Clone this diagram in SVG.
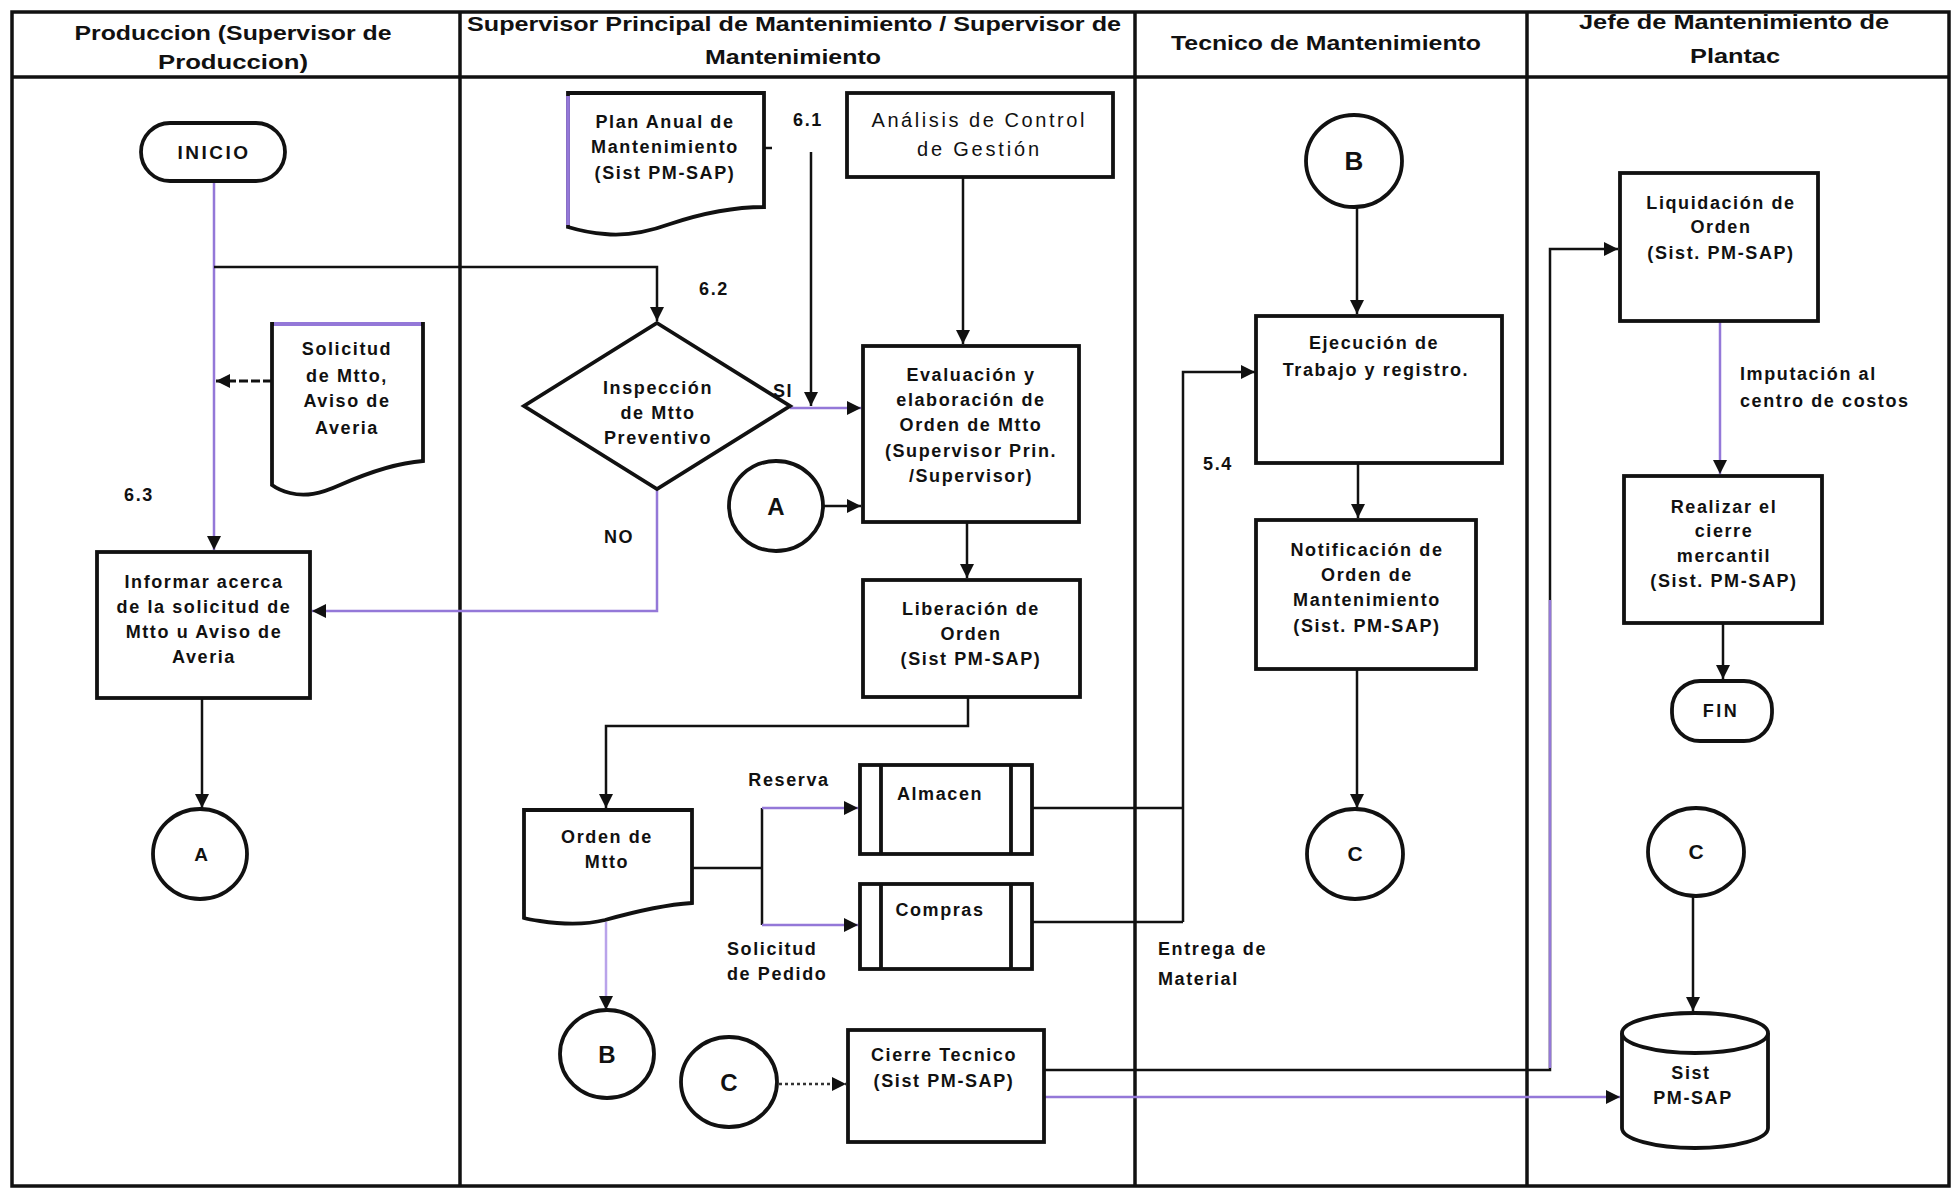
<svg xmlns="http://www.w3.org/2000/svg" width="1953" height="1190" viewBox="0 0 1953 1190">
<style>
.frame{fill:none;stroke:#111;stroke-width:3.5}
.box{fill:#fff;stroke:#111;stroke-width:3.8}
.ln{fill:none;stroke:#111;stroke-width:2.5}
.pl{fill:none;stroke:#9478d8;stroke-width:2.5}
.dot{fill:none;stroke:#333;stroke-width:2.5;stroke-dasharray:3 3}
.dash{fill:none;stroke:#111;stroke-width:3;stroke-dasharray:9 3}
text{font-family:"Liberation Sans",Arial,sans-serif;fill:#111}
.h{font-size:21px;font-weight:bold;text-anchor:middle}
.t{font-size:18px;font-weight:bold;text-anchor:middle;letter-spacing:1.6px}
.s{font-size:18px;font-weight:bold;text-anchor:start;letter-spacing:1.6px}
.r{font-size:20px;font-weight:normal;text-anchor:middle}
.big{font-size:24px;font-weight:bold;text-anchor:middle}
</style>
<defs>
<marker id="ar" viewBox="0 0 14 14" markerWidth="14" markerHeight="14" refX="14" refY="7" orient="auto" markerUnits="userSpaceOnUse">
<path d="M0,0 L14,7 L0,14 z" fill="#111"/>
</marker>
</defs>
<rect width="1953" height="1190" fill="#fff"/>

<g id="lanes">
<rect class="frame" x="12" y="12" width="1937" height="1174"/>
<line class="frame" x1="12" y1="77" x2="1949" y2="77"/>
<line class="frame" x1="460" y1="12" x2="460" y2="1186"/>
<line class="frame" x1="1135" y1="12" x2="1135" y2="1186"/>
<line class="frame" x1="1527" y1="12" x2="1527" y2="1186"/>
<text class="h" x="233" y="40" textLength="317" lengthAdjust="spacingAndGlyphs">Produccion (Supervisor de</text>
<text class="h" x="233" y="69" textLength="150" lengthAdjust="spacingAndGlyphs">Produccion)</text>
<text class="h" x="794" y="31" textLength="654" lengthAdjust="spacingAndGlyphs">Supervisor Principal de Mantenimiento / Supervisor de</text>
<text class="h" x="793" y="64" textLength="176" lengthAdjust="spacingAndGlyphs">Mantenimiento</text>
<text class="h" x="1326" y="50" textLength="310" lengthAdjust="spacingAndGlyphs">Tecnico de Mantenimiento</text>
<text class="h" x="1734" y="29" textLength="310" lengthAdjust="spacingAndGlyphs">Jefe de Mantenimiento de</text>
<text class="h" x="1735" y="63" textLength="90" lengthAdjust="spacingAndGlyphs">Plantac</text>
</g>

<g id="connectors">
<path class="pl" d="M214,181 V550" marker-end="url(#ar)"/>
<path class="ln" d="M214,267 H657 V321" marker-end="url(#ar)"/>
<path class="dash" d="M272,381 H216" marker-end="url(#ar)"/>
<path class="pl" d="M657,489 V611 H312" marker-end="url(#ar)"/>
<path class="ln" d="M202,698 V808" marker-end="url(#ar)"/>
<path class="ln" d="M764,148 H772"/>
<path class="ln" d="M811,152 V406" marker-end="url(#ar)"/>
<path class="pl" d="M790,408 H861" marker-end="url(#ar)"/>
<path class="ln" d="M963,177 V344" marker-end="url(#ar)"/>
<path class="ln" d="M823,506 H861" marker-end="url(#ar)"/>
<path class="ln" d="M967,522 V578" marker-end="url(#ar)"/>
<path class="ln" d="M968,697 V726 H606 V808" marker-end="url(#ar)"/>
<path class="ln" d="M692,868 H762 M762,808 V925"/>
<path class="pl" d="M762,808 H858" marker-end="url(#ar)"/>
<path class="pl" d="M762,925 H858" marker-end="url(#ar)"/>
<path class="ln" d="M1032,808 H1183 M1032,922 H1183"/>
<path class="ln" d="M1183,922 V372 H1255" marker-end="url(#ar)"/>
<path class="pl" style="stroke:#b9a3ea" d="M606,922 V1010" marker-end="url(#ar)"/>
<path class="dot" d="M779,1084 H846" marker-end="url(#ar)"/>
<path class="ln" d="M1044,1070 H1550 V249 H1618" marker-end="url(#ar)"/>
<path class="pl" d="M1550,1068 V600"/>
<path class="pl" d="M1044,1097 H1620" marker-end="url(#ar)"/>
<path class="ln" d="M1357,208 V314" marker-end="url(#ar)"/>
<path class="ln" d="M1358,463 V518" marker-end="url(#ar)"/>
<path class="ln" d="M1357,669 V808" marker-end="url(#ar)"/>
<path class="pl" d="M1720,321 V474" marker-end="url(#ar)"/>
<path class="ln" d="M1723,623 V679" marker-end="url(#ar)"/>
<path class="ln" d="M1693,896 V1011" marker-end="url(#ar)"/>
</g>

<g id="labels">
<text class="t" x="139" y="501">6.3</text>
<text class="t" x="808" y="126">6.1</text>
<text class="t" x="714" y="295">6.2</text>
<text class="t" x="783" y="397">SI</text>
<text class="t" x="619" y="543">NO</text>
<text class="t" x="789" y="786">Reserva</text>
<text class="s" x="727" y="955">Solicitud</text>
<text class="s" x="727" y="980">de Pedido</text>
<text class="t" x="1218" y="470">5.4</text>
<text class="s" x="1158" y="955">Entrega de</text>
<text class="s" x="1158" y="985">Material</text>
<text class="s" x="1740" y="380">Imputación al</text>
<text class="s" x="1740" y="407">centro de costos</text>
</g>

<g id="inicio">
<rect class="box" x="141" y="123" width="144" height="58" rx="29"/>
<text class="t" x="214" y="159" style="font-size:19px;letter-spacing:2.5px">INICIO</text>
</g>

<g id="solicitud">
<path class="box" d="M272,324 H423 V461 C395,463 365,474 340,485 C320,494 305,497 290,493 C282,491 276,488 272,485 Z"/>
<path class="pl" style="stroke-width:3.8" d="M274,324 H421"/>
<text class="t" x="347" y="355">Solicitud</text>
<text class="t" x="347" y="382">de Mtto,</text>
<text class="t" x="347" y="407">Aviso de</text>
<text class="t" x="347" y="434">Averia</text>
</g>

<g id="informar">
<rect class="box" x="97" y="552" width="213" height="146"/>
<text class="t" x="204" y="588">Informar acerca</text>
<text class="t" x="204" y="613">de la solicitud de</text>
<text class="t" x="204" y="638">Mtto u Aviso de</text>
<text class="t" x="204" y="663">Averia</text>
</g>

<g id="conA1">
<ellipse class="box" cx="200" cy="854" rx="47" ry="45"/>
<text class="t" x="201" y="861" style="font-size:19px;letter-spacing:0">A</text>
</g>

<g id="plan">
<path class="box" d="M568,93 H764 V207 C730,207 700,214 670,224 C645,233 625,236 605,234 C590,233 578,230 568,227 Z"/>
<path class="pl" style="stroke-width:3.8" d="M568,96 V225"/>
<text class="t" x="665" y="128">Plan Anual de</text>
<text class="t" x="665" y="153">Mantenimiento</text>
<text class="t" x="665" y="179">(Sist PM-SAP)</text>
</g>

<g id="analisis">
<rect class="box" x="847" y="93" width="266" height="84"/>
<text class="r" x="978" y="127" textLength="213" lengthAdjust="spacing">Análisis de Control</text>
<text class="r" x="978" y="156" textLength="122" lengthAdjust="spacing">de Gestión</text>
</g>

<g id="decision">
<path class="box" d="M657,323 L790,406 L657,489 L524,406 Z"/>
<text class="t" x="658" y="394">Inspección</text>
<text class="t" x="658" y="419">de Mtto</text>
<text class="t" x="658" y="444">Preventivo</text>
</g>

<g id="evaluacion">
<rect class="box" x="863" y="346" width="216" height="176"/>
<text class="t" x="971" y="381">Evaluación y</text>
<text class="t" x="971" y="406">elaboración de</text>
<text class="t" x="971" y="431">Orden de Mtto</text>
<text class="t" x="971" y="457">(Supervisor Prin.</text>
<text class="t" x="971" y="482">/Supervisor)</text>
</g>

<g id="conA2">
<ellipse class="box" cx="776" cy="506" rx="47" ry="45"/>
<text class="big" x="776" y="515">A</text>
</g>

<g id="liberacion">
<rect class="box" x="863" y="580" width="217" height="117"/>
<text class="t" x="971" y="615">Liberación de</text>
<text class="t" x="971" y="640">Orden</text>
<text class="t" x="971" y="665">(Sist PM-SAP)</text>
</g>

<g id="orden">
<path class="box" d="M524,810 H692 V903 C660,905 630,913 605,920 C585,925 560,924 540,921 C532,920 527,919 524,918 Z"/>
<text class="t" x="607" y="843">Orden de</text>
<text class="t" x="607" y="868">Mtto</text>
</g>

<g id="almacen">
<rect class="box" x="860" y="765" width="172" height="89"/>
<path class="ln" style="stroke-width:3.8" d="M881,765 V854 M1011,765 V854"/>
<text class="t" x="940" y="800">Almacen</text>
</g>

<g id="compras">
<rect class="box" x="860" y="884" width="172" height="85"/>
<path class="ln" style="stroke-width:3.8" d="M881,884 V969 M1011,884 V969"/>
<text class="t" x="940" y="916">Compras</text>
</g>

<g id="conB1">
<ellipse class="box" cx="607" cy="1054" rx="47" ry="44"/>
<text class="big" x="607" y="1063">B</text>
</g>

<g id="conC1">
<ellipse class="box" cx="729" cy="1082" rx="48" ry="45"/>
<text class="big" x="729" y="1091">C</text>
</g>

<g id="cierre">
<rect class="box" x="848" y="1030" width="196" height="112"/>
<text class="t" x="944" y="1061">Cierre Tecnico</text>
<text class="t" x="944" y="1087">(Sist PM-SAP)</text>
</g>

<g id="conB2">
<ellipse class="box" cx="1354" cy="161" rx="48" ry="46"/>
<text class="big" x="1354" y="170" style="font-size:26px">B</text>
</g>

<g id="ejecucion">
<rect class="box" x="1256" y="316" width="246" height="147"/>
<text class="t" x="1374" y="349">Ejecución de</text>
<text class="t" x="1376" y="376">Trabajo y registro.</text>
</g>

<g id="notificacion">
<rect class="box" x="1256" y="520" width="220" height="149"/>
<text class="t" x="1367" y="556">Notificación de</text>
<text class="t" x="1367" y="581">Orden de</text>
<text class="t" x="1367" y="606">Mantenimiento</text>
<text class="t" x="1367" y="632">(Sist. PM-SAP)</text>
</g>

<g id="conC2">
<ellipse class="box" cx="1355" cy="854" rx="48" ry="45"/>
<text class="t" x="1355" y="861" style="font-size:21px;letter-spacing:0">C</text>
</g>

<g id="liquidacion">
<rect class="box" x="1620" y="173" width="198" height="148"/>
<text class="t" x="1721" y="209">Liquidación de</text>
<text class="t" x="1721" y="233">Orden</text>
<text class="t" x="1721" y="259">(Sist. PM-SAP)</text>
</g>

<g id="realizar">
<rect class="box" x="1624" y="476" width="198" height="147"/>
<text class="t" x="1724" y="513">Realizar el</text>
<text class="t" x="1724" y="537">cierre</text>
<text class="t" x="1724" y="562">mercantil</text>
<text class="t" x="1724" y="587">(Sist. PM-SAP)</text>
</g>

<g id="fin">
<rect class="box" x="1672" y="681" width="100" height="60" rx="28"/>
<text class="t" x="1721" y="717" style="letter-spacing:2.5px">FIN</text>
</g>

<g id="conC3">
<ellipse class="box" cx="1696" cy="852" rx="48" ry="44"/>
<text class="t" x="1696" y="859" style="font-size:21px;letter-spacing:0">C</text>
</g>

<g id="sistema">
<path class="box" d="M1622,1033 V1128 A73,20 0 0,0 1768,1128 V1033"/>
<ellipse class="box" cx="1695" cy="1033" rx="73" ry="20"/>
<text class="t" x="1691" y="1079">Sist</text>
<text class="t" x="1693" y="1104">PM-SAP</text>
</g>
</svg>
